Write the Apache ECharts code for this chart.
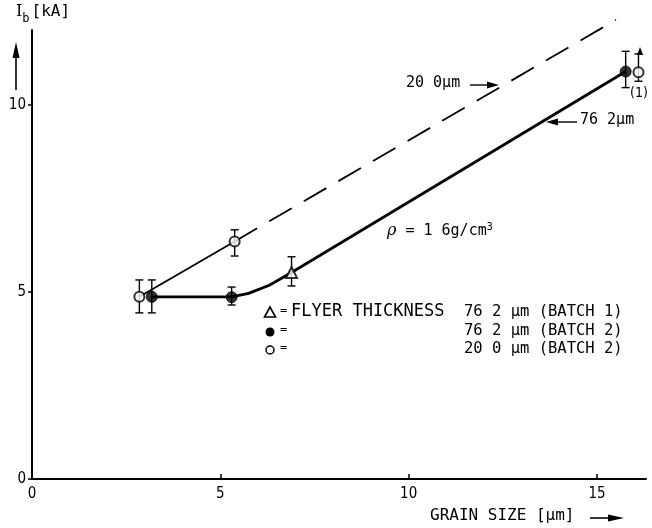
<!DOCTYPE html>
<html><head><meta charset="utf-8">
<script src="https://cdn.jsdelivr.net/npm/echarts@6/dist/echarts.min.js"></script>
<style>html,body{margin:0;padding:0;background:#fff}#c{width:652px;height:528px}</style>
</head><body><div id="c"></div>
<script>
// ---- data ----
const xTicks = [0, 5, 10, 15];
const yTicks = [0, 5, 10];
// triangle: flyer 76.2 um (batch 1)
const triX = [6.89];
const triY = [5.52];
const triLo = [5.16];
const triHi = [5.94];
// filled circle: 76.2 um (batch 2)
const fillX = [3.18, 5.3, 15.76];
const fillY = [4.87, 4.86, 10.89];
const fillLo = [4.44, 4.65, 10.46];
const fillHi = [5.32, 5.13, 11.43];
// open circle: 20.0 um (batch 2)
const openX = [2.85, 5.38, 16.1];
const openY = [4.87, 6.35, 10.87];
const openLo = [4.44, 5.96, 10.63];
const openHi = [5.32, 6.66, 11.36];
// curve for 76.2 um (solid)
const curve76X = [3.18, 5.3, 5.75, 6.3, 6.89, 15.76];
const curve76Y = [4.87, 4.87, 4.96, 5.18, 5.52, 10.89];
// line for 20.0 um: solid part then dashed part
const line20SolidX = [2.85, 5.38];
const line20SolidY = [4.87, 6.35];
const line20DashX = [5.38, 15.5];
const line20DashY = [6.35, 12.27];

const FONT = "'DejaVu Sans Condensed','Liberation Sans Narrow',sans-serif";
const MONO = "'DejaVu Sans Mono','Liberation Mono',monospace";
const zip = (a, b) => a.map((v, i) => [v, b[i]]);
const zip3 = (a, b, c) => a.map((v, i) => [v, b[i], c[i]]);

function errItem(params, api) {
  const x = api.value(0), lo = api.value(1), hi = api.value(2);
  const p1 = api.coord([x, hi]), p2 = api.coord([x, lo]);
  const w = 4, st = {stroke: '#000', lineWidth: 1.4};
  return {type: 'group', children: [
    {type: 'line', shape: {x1: p1[0], y1: p1[1], x2: p2[0], y2: p2[1]}, style: st},
    {type: 'line', shape: {x1: p1[0] - w, y1: p1[1], x2: p1[0] + w, y2: p1[1]}, style: st},
    {type: 'line', shape: {x1: p2[0] - w, y1: p2[1], x2: p2[0] + w, y2: p2[1]}, style: st}
  ]};
}

const chart = echarts.init(document.getElementById('c'), null, {renderer: 'canvas'});
chart.setOption({
  backgroundColor: '#fff',
  animation: false,
  textStyle: {fontFamily: FONT},
  grid: {left: 32, right: 6, top: 30, bottom: 49, containLabel: false},
  xAxis: {
    type: 'value', min: 0, max: 16.3, interval: 5,
    axisLine: {lineStyle: {color: '#000', width: 2}},
    axisTick: {inside: true, length: 5, customValues: [5, 10, 15], lineStyle: {color: '#000', width: 1.5}},
    splitLine: {show: false},
    axisLabel: {color: '#000', fontSize: 15, fontFamily: FONT, margin: 8,
      customValues: xTicks, formatter: v => String(v)}
  },
  yAxis: {
    type: 'value', min: 0, max: 12, interval: 5,
    axisLine: {show: true, lineStyle: {color: '#000', width: 2}},
    axisTick: {show: true, inside: false, length: 4, customValues: yTicks, lineStyle: {color: '#000', width: 1.5}},
    splitLine: {show: false},
    axisLabel: {color: '#000', fontSize: 15, fontFamily: FONT, margin: 6,
      customValues: yTicks, formatter: v => String(v)}
  },
  series: [
    {type: 'line', data: zip(line20SolidX, line20SolidY), symbol: 'none',
      lineStyle: {color: '#000', width: 1.8}, z: 2},
    {type: 'line', data: zip(line20DashX, line20DashY), symbol: 'none', clip: false,
      lineStyle: {color: '#000', width: 1.8, type: [26, 14]}, z: 2},
    {type: 'line', data: zip(curve76X, curve76Y), symbol: 'none', smooth: false,
      lineStyle: {color: '#000', width: 2.8, join: 'round'}, z: 2},
    {type: 'custom', renderItem: errItem, data: zip3(triX, triLo, triHi), z: 3},
    {type: 'custom', renderItem: errItem, data: zip3(fillX, fillLo, fillHi), z: 3},
    {type: 'custom', renderItem: errItem, data: zip3(openX, openLo, openHi), z: 3},
    {type: 'scatter', data: zip(triX, triY), symbol: 'triangle', symbolSize: 11,
      itemStyle: {color: '#fff', borderColor: '#000', borderWidth: 2}, z: 5},
    {type: 'scatter', data: zip(fillX, fillY), symbol: 'circle', symbolSize: 11,
      itemStyle: {color: '#000', borderColor: '#000', borderWidth: 1}, z: 5},
    {type: 'scatter', data: zip(openX, openY), symbol: 'circle', symbolSize: 10,
      itemStyle: {color: '#fff', borderColor: '#000', borderWidth: 2}, z: 6}
  ],
  graphic: [
    // y axis title
    {type: 'text', left: 16, top: 4, style: {
      text: '{i|I}{s|b}{n|[kA]}', fill: '#000',
      rich: {
        i: {fontSize: 16, fontFamily: 'DejaVu Serif', fill: '#000'},
        s: {fontSize: 12, fontFamily: MONO, fill: '#000', verticalAlign: 'bottom', padding: [14, 2, 0, 0]},
        n: {fontSize: 16, fontFamily: MONO, fill: '#000'}
      }}},
    {type: 'line', shape: {x1: 16, y1: 90, x2: 16, y2: 52}, style: {stroke: '#000', lineWidth: 1.6}},
    {type: 'polygon', shape: {points: [[16, 42], [12.5, 58], [19.5, 58]]}, style: {fill: '#000'}},
    // x axis title
    {type: 'text', left: 430, top: 508, style: {text: 'GRAIN SIZE [µm]', font: '16px ' + MONO, fill: '#000'}},
    {type: 'line', shape: {x1: 590, y1: 518, x2: 612, y2: 518}, style: {stroke: '#000', lineWidth: 1.6}},
    {type: 'polygon', shape: {points: [[624, 518], [608, 514.5], [608, 521.5]]}, style: {fill: '#000'}},
    // annotations
    {type: 'text', left: 406, top: 76, style: {text: '20 0µm', font: '15px ' + MONO, fill: '#000'}},
    {type: 'line', shape: {x1: 470, y1: 85, x2: 488, y2: 85}, style: {stroke: '#000', lineWidth: 1.4}},
    {type: 'polygon', shape: {points: [[499, 85], [487, 81.5], [487, 88.5]]}, style: {fill: '#000'}},
    {type: 'text', left: 580, top: 113, style: {text: '76 2µm', font: '15px ' + MONO, fill: '#000'}},
    {type: 'line', shape: {x1: 577, y1: 122, x2: 558, y2: 122}, style: {stroke: '#000', lineWidth: 1.4}},
    {type: 'polygon', shape: {points: [[546, 122], [558, 118.5], [558, 125.5]]}, style: {fill: '#000'}},
    {type: 'text', left: 387, top: 222, style: {
      text: '{r|ρ} = 1 6g/cm{p|3}', font: '15px ' + MONO, fill: '#000',
      rich: {r: {fontSize: 16, fontFamily: 'DejaVu Serif', fontStyle: 'italic'}, p: {fontSize: 10, fontFamily: MONO, verticalAlign: 'top', padding: [0, 0, 8, 0]}}}},
    {type: 'text', left: 630, top: 86, style: {text: '(1)', font: '14px ' + FONT, fill: '#000'}},
    // small up arrow above open circle at right
    {type: 'polygon', shape: {points: [[640, 47], [637, 55], [643, 55]]}, style: {fill: '#000'}},
    // legend
    {type: 'polygon', shape: {points: [[270, 307], [264.5, 317], [275.5, 317]]}, style: {fill: '#fff', stroke: '#000', lineWidth: 1.6}},
    {type: 'circle', shape: {cx: 270, cy: 332, r: 4.5}, style: {fill: '#000'}},
    {type: 'circle', shape: {cx: 270, cy: 350, r: 4}, style: {fill: '#fff', stroke: '#000', lineWidth: 1.5}},
    {type: 'text', left: 280, top: 305, style: {text: '=', font: '12px ' + MONO, fill: '#000'}},
    {type: 'text', left: 280, top: 324, style: {text: '=', font: '12px ' + MONO, fill: '#000'}},
    {type: 'text', left: 280, top: 342, style: {text: '=', font: '12px ' + MONO, fill: '#000'}},
    {type: 'text', left: 291, top: 303, style: {text: 'FLYER THICKNESS', font: '17px ' + MONO, fill: '#000'}},
    {type: 'text', left: 464, top: 304, style: {text: '76 2 µm (BATCH 1)', font: '15.5px ' + MONO, fill: '#000'}},
    {type: 'text', left: 464, top: 323, style: {text: '76 2 µm (BATCH 2)', font: '15.5px ' + MONO, fill: '#000'}},
    {type: 'text', left: 464, top: 341, style: {text: '20 0 µm (BATCH 2)', font: '15.5px ' + MONO, fill: '#000'}}
  ]
});
</script></body></html>
